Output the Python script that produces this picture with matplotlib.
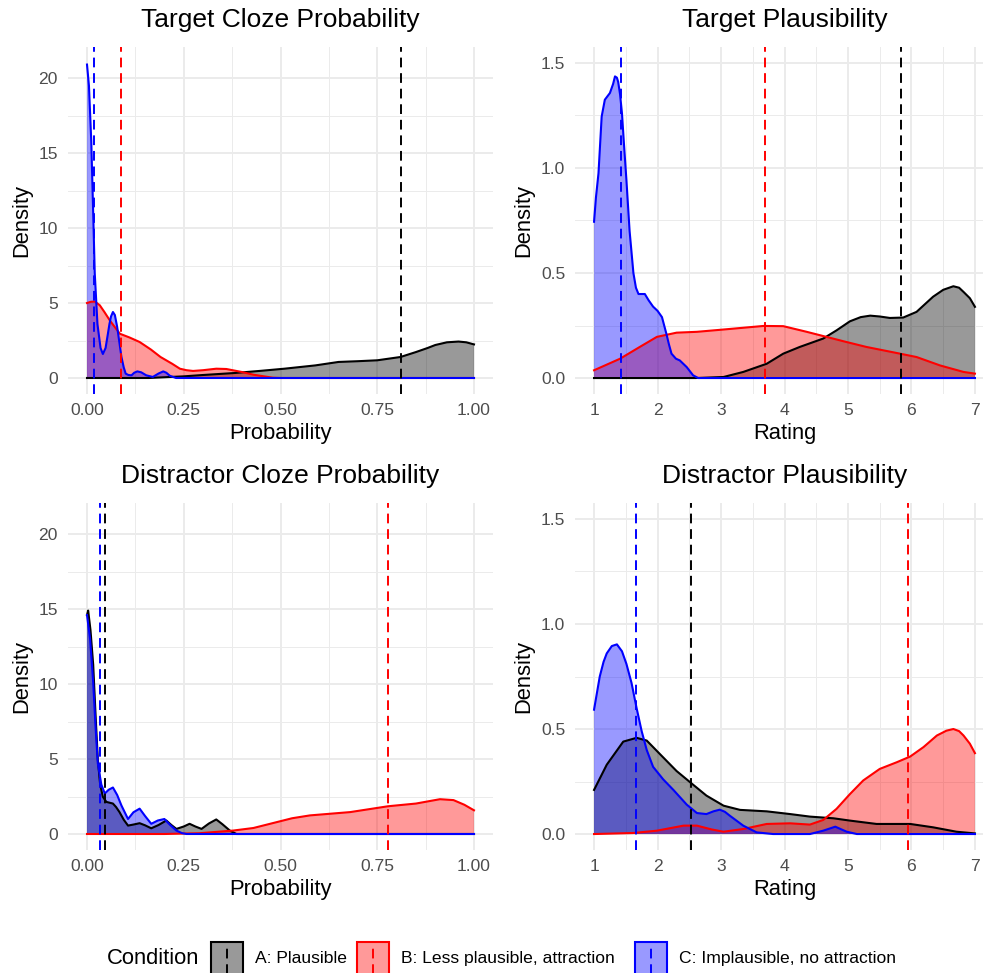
import matplotlib
matplotlib.use("Agg")
import matplotlib.pyplot as plt
from matplotlib.patches import Rectangle
from matplotlib.lines import Line2D

plt.rcParams['font.family'] = ['Liberation Sans', 'DejaVu Sans']

# ===============================
# DATA
# ===============================
conditions = ["A: Plausible", "B: Less plausible, attraction", "C: Implausible, no attraction"]
line_colors = ["black", "red", "blue"]

# Target cloze probability
tc_a_x = [0, 0.16, 0.20, 0.25, 0.30, 0.38, 0.45, 0.51, 0.59, 0.65, 0.70, 0.75, 0.81, 0.85, 0.88,
          0.90, 0.93, 0.96, 0.98, 1.0]
tc_a_y = [0, 0, 0.05, 0.11, 0.2, 0.33, 0.48, 0.62, 0.84, 1.07, 1.12, 1.18, 1.4, 1.73, 2.0,
          2.2, 2.38, 2.43, 2.38, 2.24]
tc_b_x = [0, 0.01, 0.02, 0.033, 0.045, 0.06, 0.085, 0.11, 0.136, 0.165, 0.19, 0.22, 0.24, 0.257,
          0.274, 0.30, 0.334, 0.36, 0.378, 0.40, 0.43, 0.48, 0.5, 1.0]
tc_b_y = [5.0, 5.08, 5.1, 4.85, 4.4, 3.8, 2.95, 2.7, 2.4, 1.9, 1.4, 0.95, 0.62, 0.52,
          0.47, 0.52, 0.62, 0.6, 0.51, 0.4, 0.22, 0.02, 0, 0]
tc_c_x = [0, 0.005, 0.011, 0.016, 0.02, 0.027, 0.035, 0.041, 0.048, 0.054, 0.058, 0.062, 0.067,
          0.072, 0.078, 0.083, 0.089, 0.095, 0.10, 0.107, 0.115, 0.122, 0.13, 0.14, 0.153, 0.17,
          0.185, 0.197, 0.205, 0.214, 0.23, 1.0]
tc_c_y = [20.9, 19.5, 15.8, 11.0, 7.0, 3.6, 2.0, 1.6, 2.0, 2.95, 3.6, 4.1, 4.4,
          4.2, 3.4, 2.5, 1.4, 0.7, 0.29, 0.2, 0.18, 0.35, 0.44, 0.38, 0.18, 0.07,
          0.3, 0.44, 0.35, 0.15, 0, 0]
tc_means = [0.811, 0.089, 0.018]

# Target plausibility
tp_a_x = [1, 2.6, 3.04, 3.35, 3.72, 3.98, 4.24, 4.61, 4.82, 5.03, 5.2, 5.35, 5.5, 5.66, 5.87,
          6.08, 6.34, 6.5, 6.66, 6.75, 6.82, 6.92, 7]
tp_a_y = [0, 0, 0.005, 0.029, 0.068, 0.116, 0.148, 0.188, 0.227, 0.27, 0.29, 0.297, 0.293, 0.286,
          0.288, 0.315, 0.387, 0.42, 0.437, 0.43, 0.41, 0.38, 0.339]
tp_b_x = [1, 1.41, 1.72, 1.99, 2.30, 2.62, 3.04, 3.67, 3.98, 4.35, 4.66, 4.93, 5.29, 5.82, 6.08,
          6.45, 6.82, 7]
tp_b_y = [0.037, 0.092, 0.148, 0.196, 0.216, 0.22, 0.231, 0.248, 0.247, 0.22, 0.196, 0.175, 0.148,
          0.116, 0.10, 0.06, 0.029, 0.021]
tp_c_x = [1, 1.03, 1.07, 1.12, 1.17, 1.25, 1.30, 1.33, 1.36, 1.38, 1.41, 1.44, 1.47, 1.51, 1.56,
          1.62, 1.66, 1.70, 1.80, 1.86, 1.93, 2.00, 2.07, 2.14, 2.18, 2.22, 2.29, 2.35, 2.46, 2.56,
          2.64, 7]
tp_c_y = [0.744, 0.86, 0.975, 1.245, 1.325, 1.357, 1.40, 1.436, 1.43, 1.41, 1.35, 1.26, 1.12,
          0.943, 0.70, 0.50, 0.43, 0.40, 0.40, 0.37, 0.34, 0.32, 0.29, 0.21, 0.16, 0.116, 0.092,
          0.084, 0.052, 0.013, 0, 0]
tp_means = [5.84, 3.69, 1.425]

# Distractor cloze probability
dc_a_x = [0, 0.003, 0.009, 0.016, 0.022, 0.028, 0.034, 0.041, 0.05, 0.067, 0.075, 0.084, 0.095,
          0.106, 0.12, 0.136, 0.15, 0.166, 0.185, 0.205, 0.218, 0.231, 0.25, 0.265, 0.28, 0.296,
          0.315, 0.334, 0.35, 0.369, 0.386, 1.0]
dc_a_y = [14.6, 14.9, 13.6, 11.3, 8.0, 4.95, 3.3, 2.48, 2.14, 2.03, 1.8, 1.46, 0.95,
          0.56, 0.63, 0.72, 0.58, 0.38, 0.6, 0.9, 0.6, 0.34, 0.5, 0.68, 0.5, 0.34,
          0.7, 0.97, 0.65, 0.23, 0, 0]
dc_b_x = [0, 0.2, 0.29, 0.378, 0.43, 0.49, 0.53, 0.576, 0.68, 0.778, 0.85, 0.912, 0.947, 0.975,
          1.0]
dc_b_y = [0, 0, 0.05, 0.23, 0.4, 0.79, 1.05, 1.24, 1.46, 1.85, 2.03, 2.32, 2.26, 1.95, 1.58]
dc_c_x = [0, 0.008, 0.016, 0.022, 0.028, 0.037, 0.046, 0.056, 0.067, 0.078, 0.089, 0.106, 0.12,
          0.136, 0.15, 0.166, 0.183, 0.20, 0.215, 0.231, 0.245, 0.257, 1.0]
dc_c_y = [14.6, 13.0, 10.1, 7.2, 4.7, 3.3, 2.7, 2.95, 3.1, 2.6, 1.9, 1.0, 1.45,
          1.69, 1.2, 0.68, 0.9, 1.0, 0.6, 0.23, 0.06, 0, 0]
dc_means = [0.047, 0.778, 0.033]

# Distractor plausibility
dp_a_x = [1, 1.2, 1.46, 1.67, 1.83, 2.04, 2.30, 2.54, 2.77, 3.04, 3.30, 3.72, 4.09, 4.40, 4.77,
          5.03, 5.45, 5.98, 6.34, 6.71, 7]
dp_a_y = [0.21, 0.33, 0.44, 0.458, 0.445, 0.38, 0.30, 0.24, 0.183, 0.135, 0.115, 0.108, 0.095,
          0.083, 0.075, 0.064, 0.048, 0.048, 0.032, 0.011, 0.003]
dp_b_x = [1, 1.62, 1.99, 2.41, 2.62, 2.85, 3.04, 3.35, 3.72, 4.09, 4.40, 4.61, 4.82, 5.03, 5.24,
          5.50, 5.77, 5.98, 6.19, 6.40, 6.55, 6.66, 6.75, 6.82, 6.92, 7]
dp_b_y = [0, 0.005, 0.016, 0.04, 0.04, 0.022, 0.011, 0.024, 0.048, 0.051, 0.045, 0.067, 0.12,
          0.19, 0.255, 0.31, 0.342, 0.369, 0.414, 0.469, 0.492, 0.50, 0.49, 0.469, 0.43, 0.385]
dp_c_x = [1, 1.05, 1.09, 1.15, 1.2, 1.28, 1.36, 1.44, 1.51, 1.59, 1.67, 1.75, 1.83, 1.93, 2.09,
          2.25, 2.46, 2.62, 2.77, 2.88, 2.98, 3.06, 3.14, 3.35, 3.56, 3.82, 4.4, 4.61, 4.8, 4.98,
          5.14, 7]
dp_c_y = [0.592, 0.68, 0.75, 0.82, 0.86, 0.895, 0.903, 0.87, 0.81, 0.72, 0.60, 0.49, 0.40, 0.32,
          0.26, 0.21, 0.14, 0.10, 0.095, 0.108, 0.116, 0.106, 0.087, 0.04, 0.008, 0, 0, 0.016,
          0.035, 0.011, 0, 0]
dp_means = [2.53, 5.95, 1.66]

prob_ticks = [0, 0.25, 0.5, 0.75, 1.0]
prob_labels = ["0.00", "0.25", "0.50", "0.75", "1.00"]
rating_ticks = [1, 2, 3, 4, 5, 6, 7]
rating_labels = ["1", "2", "3", "4", "5", "6", "7"]
cloze_yticks = [0, 5, 10, 15, 20]
cloze_ylabels = ["0", "5", "10", "15", "20"]
plaus_yticks = [0, 0.5, 1.0, 1.5]
plaus_ylabels = ["0.0", "0.5", "1.0", "1.5"]

# ===============================
# FIGURE / LAYOUT
# ===============================
W, H = 983, 973
fig = plt.figure(figsize=(W / 100, H / 100), dpi=100)


def px_axes(x0, x1, y_top, y_bot):
    return fig.add_axes([x0 / W, 1 - y_bot / H, (x1 - x0) / W, (y_bot - y_top) / H])


DASH = (0, (5, 3))
GRID = "#EBEBEB"


def panel(ax, title, xlabel, series, means, xlim, ylim, xt, xtl, xmin, yt, ytl, ymin):
    ax.set_xlim(*xlim)
    ax.set_ylim(*ylim)
    for s in ax.spines.values():
        s.set_visible(False)
    ax.set_xticks(xt)
    ax.set_xticklabels(xtl)
    ax.set_xticks(xmin, minor=True)
    ax.set_yticks(yt)
    ax.set_yticklabels(ytl)
    ax.set_yticks(ymin, minor=True)
    ax.grid(True, which="major", color=GRID, lw=1.4)
    ax.grid(True, which="minor", color=GRID, lw=0.7)
    ax.set_axisbelow(True)
    ax.tick_params(which="both", length=0, labelsize=12.6, labelcolor="#4D4D4D")
    ax.tick_params(axis="x", pad=6.5)
    ax.tick_params(axis="y", pad=7)

    for (x, y), c in zip(series, line_colors):
        ax.fill_between(x, y, 0, facecolor=c, alpha=0.4, linewidth=0)
        ax.plot(x, y, color=c, lw=1.5, solid_joinstyle="round")
    for m, c in zip(means, line_colors):
        ax.axvline(m, color=c, lw=1.4, linestyle=DASH)

    ax.text(0.5, 1.078, title, transform=ax.transAxes, ha="center", va="center", fontsize=19)
    ax.set_xlabel(xlabel, fontsize=15.8, va="center")
    ax.xaxis.set_label_coords(0.5, -40 / 347)
    ax.set_ylabel("Density", fontsize=15.8, va="center")


ax_tl = px_axes(67.65, 493.35, 47, 394)
ax_tr = px_axes(575, 994, 47, 394)
ax_bl = px_axes(67.65, 493.35, 503, 850)
ax_br = px_axes(575, 994, 503, 850)

prob_minor = [0.125, 0.375, 0.625, 0.875]
rating_minor = [1.5, 2.5, 3.5, 4.5, 5.5, 6.5]
cloze_minor = [2.5, 7.5, 12.5, 17.5]
plaus_minor = [0.25, 0.75, 1.25]

cloze_ylim = (-1.067, 22.07)
plaus_ylim = (-0.076, 1.576)

panel(ax_tl, "Target Cloze Probability", "Probability",
      [(tc_a_x, tc_a_y), (tc_b_x, tc_b_y), (tc_c_x, tc_c_y)], tc_means,
      (-0.05, 1.05), cloze_ylim, prob_ticks, prob_labels, prob_minor,
      cloze_yticks, cloze_ylabels, cloze_minor)
panel(ax_tr, "Target Plausibility", "Rating",
      [(tp_a_x, tp_a_y), (tp_b_x, tp_b_y), (tp_c_x, tp_c_y)], tp_means,
      (0.7, 7.3), plaus_ylim, rating_ticks, rating_labels, rating_minor,
      plaus_yticks, plaus_ylabels, plaus_minor)
panel(ax_bl, "Distractor Cloze Probability", "Probability",
      [(dc_a_x, dc_a_y), (dc_b_x, dc_b_y), (dc_c_x, dc_c_y)], dc_means,
      (-0.05, 1.05), cloze_ylim, prob_ticks, prob_labels, prob_minor,
      cloze_yticks, cloze_ylabels, cloze_minor)
panel(ax_br, "Distractor Plausibility", "Rating",
      [(dp_a_x, dp_a_y), (dp_b_x, dp_b_y), (dp_c_x, dp_c_y)], dp_means,
      (0.7, 7.3), plaus_ylim, rating_ticks, rating_labels, rating_minor,
      plaus_yticks, plaus_ylabels, plaus_minor)

ax_tl.yaxis.set_label_coords((22 - 67.65) / 425.7, 0.5)
ax_bl.yaxis.set_label_coords((22 - 67.65) / 425.7, 0.5)
ax_tr.yaxis.set_label_coords((524 - 575) / 419, 0.5)
ax_br.yaxis.set_label_coords((524 - 575) / 419, 0.5)

# ===============================
# LEGEND (drawn by hand, ggplot style)
# ===============================
ly = 958.5
fig.text(107 / W, 1 - ly / H, "Condition", fontsize=15.8, ha="left", va="center")
key_x = [211, 357, 635]
for kx, lab, c in zip(key_x, conditions, line_colors):
    fig.add_artist(Rectangle((kx / W, 1 - 975 / H), 32 / W, 33 / H, transform=fig.transFigure,
                             facecolor=c, alpha=0.4, edgecolor="none"))
    fig.add_artist(Rectangle((kx / W, 1 - 975 / H), 32 / W, 33 / H, transform=fig.transFigure,
                             facecolor="none", edgecolor=c, lw=1.5))
    fig.add_artist(Line2D([(kx + 16) / W] * 2, [1 - 975 / H, 1 - 942 / H], transform=fig.transFigure,
                          color=c, lw=1.4, linestyle=DASH))
    fig.text((kx + 44) / W, 1 - ly / H, lab, fontsize=12.6, ha="left", va="center")

fig.savefig("out.png", dpi=100)
